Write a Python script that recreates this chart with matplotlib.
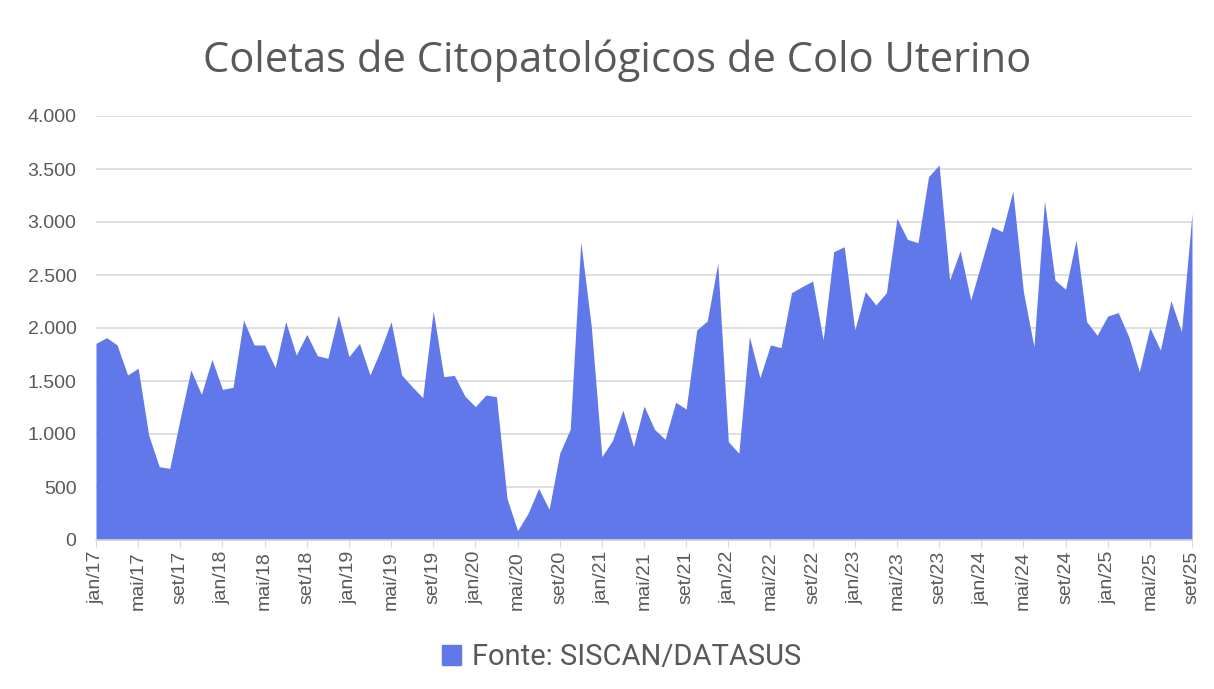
import numpy as np
import matplotlib
matplotlib.use("Agg")
from matplotlib import pyplot as plt
from matplotlib.patches import Patch

months = ['jan', 'fev', 'mar', 'abr', 'mai', 'jun', 'jul', 'ago', 'set', 'out', 'nov', 'dez']
years = ['17', '18', '19', '20', '21', '22', '23', '24', '25']
labels = [m + '/' + y for y in years for m in months][:105]

coletas = [
    1855, 1909, 1840, 1557, 1620, 990, 692, 676, 1150, 1604, 1374, 1704,
    1421, 1440, 2075, 1840, 1840, 1626, 2060, 1745, 1940, 1739, 1714, 2123,
    1730, 1855, 1557, 1792, 2060, 1557, 1447, 1343, 2160, 1541, 1553, 1358,
    1258, 1368, 1352, 393, 88, 252, 487, 289, 818, 1044, 2814, 2013,
    786, 937, 1226, 881, 1264, 1044, 950, 1299, 1236, 1981, 2066, 2610,
    928, 818, 1918, 1531, 1840, 1814, 2333, 2390, 2443, 1887, 2720, 2767,
    1981, 2343, 2217, 2333, 3035, 2836, 2805, 3428, 3538, 2453, 2730, 2264,
    2610, 2956, 2909, 3292, 2343, 1824, 3201, 2453, 2365, 2830, 2060, 1931,
    2113, 2145, 1918, 1588, 2003, 1792, 2258, 1965, 3082,
]

fill_color = '#6078EA'
text_color = '#595959'

fig = plt.figure(figsize=(12.14, 6.89), dpi=100)
ax = fig.add_axes([96 / 1214, 149 / 689, 1096 / 1214, 424 / 689])

x = np.arange(len(coletas))
ax.fill_between(x, coletas, 0, color=fill_color, linewidth=0)

ax.set_xlim(0, len(coletas) - 1)
ax.set_ylim(0, 4000)
yticks = np.arange(0, 4001, 500)
ax.set_yticks(yticks)
ax.set_yticklabels([f'{v:,}'.replace(',', '.') for v in yticks],
                   fontsize=14, color=text_color, family='Liberation Sans')
ax.set_xticks(x[::4])
ax.set_xticklabels(labels[::4], rotation=90, fontsize=14,
                   color=text_color, family='Liberation Sans')

ax.grid(axis='y', color='#D9D9D9', linewidth=1.2)
ax.set_axisbelow(True)
for side in ['top', 'right', 'left']:
    ax.spines[side].set_visible(False)
ax.spines['bottom'].set_color('#D9D9D9')
ax.spines['bottom'].set_linewidth(1.2)
ax.tick_params(axis='y', length=0, pad=14)
ax.tick_params(axis='x', length=5, color='#D9D9D9', pad=3)

fig.text(0.508, (689 - 72) / 689, 'Coletas de Citopatológicos de Colo Uterino',
         ha='center', va='baseline', fontsize=30, color=text_color,
         family='Open Sans')

fig.legend(handles=[Patch(color=fill_color, label='Fonte: SISCAN/DATASUS')],
           loc='center', bbox_to_anchor=(0.512, 0.046), frameon=False,
           handlelength=0.65, handleheight=0.65, handletextpad=0.4,
           labelcolor=text_color, prop={'family': 'Roboto', 'size': 21})

fig.savefig('out.png', dpi=100, facecolor='white')
